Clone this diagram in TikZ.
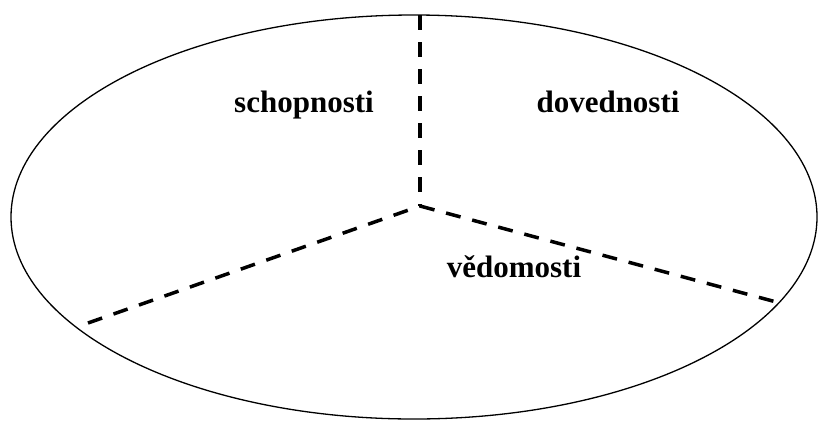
\documentclass[tikz,border=0pt]{standalone}
\usepackage{fontspec}
\setmainfont{Liberation Serif}
\usetikzlibrary{shapes.geometric}
\begin{document}
\begin{tikzpicture}[x=1pt,y=-1pt,
  divider/.style={line width=3.5pt, dash pattern=on 15pt off 12pt},
  label/.style={font=\fontsize{31}{37}\selectfont\bfseries, anchor=base, inner sep=0pt}]
\useasboundingbox (0,0) rectangle (818,421);
\node[draw, line width=1.3pt, ellipse, inner sep=0pt, minimum width=806pt, minimum height=404pt] (e) at (414,217) {};
\coordinate (c) at (420,206);
\coordinate (t) at (420,15);
\coordinate (l) at (88,323);
\coordinate (r) at (780,303);
\draw[divider] (t) -- (c);
\draw[divider] (l) -- (c);
\draw[divider] (c) -- (r);
\node[label] (s) at (304,112) {schopnosti};
\node[label] (d) at (608,112) {dovednosti};
\node[label] (v) at (514,277) {vědomosti};
\end{tikzpicture}
\end{document}
